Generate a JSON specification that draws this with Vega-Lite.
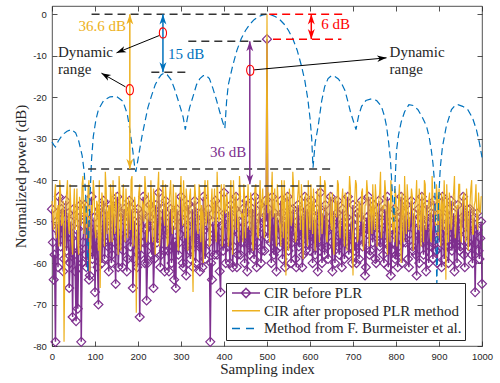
{
"$schema":"https://vega.github.io/schema/vega-lite/v6.json",
"width":430,"height":340,
"autosize":{"type":"none"},
"padding":{"left":52,"top":6,"right":18,"bottom":37},
"background":"#ffffff",
"view":{"stroke":"#262626","strokeWidth":0.8},
"config":{"axis":{"domain":false,"grid":false,"tickSize":-5,"tickWidth":0.8,"tickColor":"#262626","labelFont":"Liberation Sans","labelFontSize":9.5,"labelColor":"#262626","labelPadding":10.6,"titleFont":"Liberation Serif","titleFontSize":15,"titleFontWeight":"normal","titleColor":"#262626"}},
"datasets":{
"cir":[
{"x":0,"p":-47,"o":-45},{"x":2,"p":-55,"o":-49},{"x":4,"p":-64,"o":-52},{"x":6,"p":-58,"o":-44},{"x":8,"p":-79,"o":-41},{"x":10,"p":-50,"o":-54},{"x":12,"p":-52,"o":-48},{"x":14,"p":-61,"o":-46},{"x":16,"p":-44,"o":-56},{"x":18,"p":-53,"o":-40},
{"x":20,"p":-56,"o":-43},{"x":22,"p":-47,"o":-51},{"x":24,"p":-48,"o":-50},{"x":26,"p":-62,"o":-45},{"x":28,"p":-59,"o":-79},{"x":30,"p":-51,"o":-57},{"x":32,"p":-45,"o":-46},{"x":34,"p":-57,"o":-43},{"x":36,"p":-53,"o":-40},{"x":38,"p":-48,"o":-50},
{"x":40,"p":-66,"o":-53},{"x":42,"p":-60,"o":-41},{"x":44,"p":-50,"o":-47},{"x":46,"p":-54,"o":-55},{"x":48,"p":-73,"o":-58},{"x":50,"p":-47,"o":-47},{"x":52,"p":-58,"o":-42},{"x":54,"p":-62,"o":-52},{"x":56,"p":-74,"o":-49},{"x":58,"p":-52,"o":-42},
{"x":60,"p":-71,"o":-55},{"x":62,"p":-57,"o":-58},{"x":64,"p":-49,"o":-44},{"x":66,"p":-46,"o":-46},{"x":68,"p":-79,"o":-51},{"x":70,"p":-60,"o":-41},{"x":72,"p":-55,"o":-39},{"x":74,"p":-51,"o":-53},{"x":76,"p":-46,"o":-47},{"x":78,"p":-58,"o":-44},
{"x":80,"p":-61,"o":-54},{"x":82,"p":-48,"o":-50},{"x":84,"p":-51,"o":-42},{"x":86,"p":-64,"o":-40},{"x":88,"p":-63,"o":-62},{"x":90,"p":-53,"o":-56},{"x":92,"p":-44,"o":-46},{"x":94,"p":-59,"o":-48},{"x":96,"p":-57,"o":-40},{"x":98,"p":-49,"o":-43},
{"x":100,"p":-67,"o":-52},{"x":102,"p":-56,"o":-54},{"x":104,"p":-52,"o":-45},{"x":106,"p":-61,"o":-46},{"x":108,"p":-70,"o":-57},{"x":110,"p":-47,"o":-40},{"x":112,"p":-48,"o":-66},{"x":114,"p":-54,"o":-52},{"x":116,"p":-60,"o":-43},{"x":118,"p":-52,"o":-45},
{"x":120,"p":-45,"o":-49},{"x":122,"p":-59,"o":-56},{"x":124,"p":-55,"o":-38},{"x":126,"p":-47,"o":-42},{"x":128,"p":-50,"o":-53},{"x":130,"p":-56,"o":-48},{"x":132,"p":-62,"o":-46},{"x":134,"p":-51,"o":-55},{"x":136,"p":-46,"o":-41},{"x":138,"p":-60,"o":-44},
{"x":140,"p":-58,"o":-55},{"x":142,"p":-48,"o":-40},{"x":144,"p":-52,"o":-48},{"x":146,"p":-55,"o":-53},{"x":148,"p":-65,"o":-43},{"x":150,"p":-46,"o":-46},{"x":152,"p":-44,"o":-51},{"x":154,"p":-61,"o":-58},{"x":156,"p":-56,"o":-39},{"x":158,"p":-53,"o":-43},
{"x":160,"p":-49,"o":-57},{"x":162,"p":-48,"o":-49},{"x":164,"p":-61,"o":-45},{"x":166,"p":-57,"o":-41},{"x":168,"p":-47,"o":-50},{"x":170,"p":-50,"o":-55},{"x":172,"p":-54,"o":-42},{"x":174,"p":-62,"o":-47},{"x":176,"p":-59,"o":-54},{"x":178,"p":-49,"o":-44},
{"x":180,"p":-45,"o":-47},{"x":182,"p":-56,"o":-52},{"x":184,"p":-52,"o":-40},{"x":186,"p":-47,"o":-39},{"x":188,"p":-66,"o":-56},{"x":190,"p":-59,"o":-50},{"x":192,"p":-50,"o":-44},{"x":194,"p":-53,"o":-46},{"x":196,"p":-57,"o":-72},{"x":198,"p":-61,"o":-54},
{"x":200,"p":-47,"o":-48},{"x":202,"p":-50,"o":-43},{"x":204,"p":-73,"o":-41},{"x":206,"p":-58,"o":-57},{"x":208,"p":-55,"o":-53},{"x":210,"p":-48,"o":-45},{"x":212,"p":-44,"o":-46},{"x":214,"p":-55,"o":-50},{"x":216,"p":-60,"o":-39},{"x":218,"p":-52,"o":-42},
{"x":220,"p":-69,"o":-55},{"x":222,"p":-60,"o":-53},{"x":224,"p":-51,"o":-43},{"x":226,"p":-49,"o":-47},{"x":228,"p":-46,"o":-50},{"x":230,"p":-56,"o":-40},{"x":232,"p":-58,"o":-47},{"x":234,"p":-51,"o":-55},{"x":236,"p":-66,"o":-42},{"x":238,"p":-59,"o":-44},
{"x":240,"p":-48,"o":-58},{"x":242,"p":-46,"o":-49},{"x":244,"p":-55,"o":-45},{"x":246,"p":-54,"o":-42},{"x":248,"p":-43,"o":-38},{"x":250,"p":-50,"o":-56},{"x":252,"p":-61,"o":-52},{"x":254,"p":-58,"o":-46},{"x":256,"p":-50,"o":-44},{"x":258,"p":-47,"o":-40},
{"x":260,"p":-57,"o":-49},{"x":262,"p":-62,"o":-51},{"x":264,"p":-45,"o":-41},{"x":266,"p":-52,"o":-45},{"x":268,"p":-53,"o":-56},{"x":270,"p":-57,"o":-55},{"x":272,"p":-62,"o":-46},{"x":274,"p":-49,"o":-43},{"x":276,"p":-47,"o":-40},{"x":278,"p":-60,"o":-49},
{"x":280,"p":-56,"o":-53},{"x":282,"p":-51,"o":-41},{"x":284,"p":-64,"o":-48},{"x":286,"p":-55,"o":-52},{"x":288,"p":-66,"o":-43},{"x":290,"p":-47,"o":-46},{"x":292,"p":-49,"o":-55},{"x":294,"p":-58,"o":-57},{"x":296,"p":-55,"o":-45},{"x":298,"p":-53,"o":-43},
{"x":300,"p":-44,"o":-39},{"x":302,"p":-50,"o":-48},{"x":304,"p":-60,"o":-51},{"x":306,"p":-61,"o":-40},{"x":308,"p":-52,"o":-47},{"x":310,"p":-48,"o":-54},{"x":312,"p":-63,"o":-42},{"x":314,"p":-56,"o":-45},{"x":316,"p":-46,"o":-57},{"x":318,"p":-51,"o":-50},
{"x":320,"p":-57,"o":-44},{"x":322,"p":-59,"o":-42},{"x":324,"p":-50,"o":-50},{"x":326,"p":-47,"o":-56},{"x":328,"p":-61,"o":-67},{"x":330,"p":-54,"o":-47},{"x":332,"p":-45,"o":-41},{"x":334,"p":-60,"o":-44},{"x":336,"p":-54,"o":-48},{"x":338,"p":-50,"o":-52},
{"x":340,"p":-48,"o":-53},{"x":342,"p":-56,"o":-41},{"x":344,"p":-62,"o":-43},{"x":346,"p":-48,"o":-55},{"x":348,"p":-56,"o":-46},{"x":350,"p":-61,"o":-48},{"x":352,"p":-44,"o":-60},{"x":354,"p":-52,"o":-43},{"x":356,"p":-59,"o":-40},{"x":358,"p":-57,"o":-51},
{"x":360,"p":-51,"o":-49},{"x":362,"p":-49,"o":-40},{"x":364,"p":-47,"o":-45},{"x":366,"p":-55,"o":-56},{"x":368,"p":-79,"o":-55},{"x":370,"p":-60,"o":-46},{"x":372,"p":-64,"o":-42},{"x":374,"p":-50,"o":-50},{"x":376,"p":-53,"o":-47},{"x":378,"p":-58,"o":-42},
{"x":380,"p":-45,"o":-52},{"x":382,"p":-47,"o":-55},{"x":384,"p":-58,"o":-38},{"x":386,"p":-54,"o":-45},{"x":388,"p":-50,"o":-50},{"x":390,"p":-62,"o":-49},{"x":392,"p":-67,"o":-44},{"x":394,"p":-51,"o":-41},{"x":396,"p":-55,"o":-56},{"x":398,"p":-57,"o":-53},
{"x":400,"p":-43,"o":-41},{"x":402,"p":-48,"o":-47},{"x":404,"p":-60,"o":-48},{"x":406,"p":-55,"o":-43},{"x":408,"p":-49,"o":-45},{"x":410,"p":-51,"o":-56},{"x":412,"p":-56,"o":-53},{"x":414,"p":-60,"o":-44},{"x":416,"p":-46,"o":-40},{"x":418,"p":-49,"o":-50},
{"x":420,"p":-61,"o":-58},{"x":422,"p":-56,"o":-40},{"x":424,"p":-52,"o":-46},{"x":426,"p":-47,"o":-52},{"x":428,"p":-44,"o":-43},{"x":430,"p":-61,"o":-46},{"x":432,"p":-58,"o":-51},{"x":434,"p":-53,"o":-55},{"x":436,"p":-50,"o":-39},{"x":438,"p":-58,"o":-43},
{"x":440,"p":-55,"o":-49},{"x":442,"p":-50,"o":-48},{"x":444,"p":-47,"o":-55},{"x":446,"p":-55,"o":-41},{"x":448,"p":-60,"o":-44},{"x":450,"p":-48,"o":-54},{"x":452,"p":-45,"o":-47},{"x":454,"p":-62,"o":-46},{"x":456,"p":-53,"o":-41},{"x":458,"p":-51,"o":-50},
{"x":460,"p":-58,"o":-52},{"x":462,"p":-56,"o":-43},{"x":464,"p":-48,"o":-45},{"x":466,"p":-47,"o":-55},{"x":468,"p":-56,"o":-57},{"x":470,"p":-59,"o":-47},{"x":472,"p":-44,"o":-42},{"x":474,"p":-52,"o":-41},{"x":476,"p":-61,"o":-48},{"x":478,"p":-55,"o":-53},
{"x":480,"p":-51,"o":-54},{"x":482,"p":-49,"o":-45},{"x":484,"p":-46,"o":-40},{"x":486,"p":-60,"o":-49},{"x":488,"p":-57,"o":-46},{"x":490,"p":-53,"o":-42},{"x":492,"p":-49,"o":-51},{"x":494,"p":-57,"o":-54},{"x":496,"p":-45,"o":-44},{"x":498,"p":-50,"o":-46},
{"x":500,"p":-6,"o":0},{"x":502,"p":-54,"o":-48},{"x":504,"p":-47,"o":-43},{"x":506,"p":-49,"o":-55},{"x":508,"p":-55,"o":-50},{"x":510,"p":-60,"o":-44},{"x":512,"p":-44,"o":-38},{"x":514,"p":-52,"o":-49},{"x":516,"p":-58,"o":-47},{"x":518,"p":-48,"o":-42},
{"x":520,"p":-57,"o":-53},{"x":522,"p":-62,"o":-56},{"x":524,"p":-49,"o":-41},{"x":526,"p":-51,"o":-45},{"x":528,"p":-53,"o":-49},{"x":530,"p":-56,"o":-51},{"x":532,"p":-45,"o":-56},{"x":534,"p":-48,"o":-40},{"x":536,"p":-59,"o":-44},{"x":538,"p":-54,"o":-54},
{"x":540,"p":-50,"o":-40},{"x":542,"p":-61,"o":-47},{"x":544,"p":-56,"o":-63},{"x":546,"p":-50,"o":-43},{"x":548,"p":-44,"o":-46},{"x":550,"p":-57,"o":-57},{"x":552,"p":-52,"o":-42},{"x":554,"p":-47,"o":-45},{"x":556,"p":-60,"o":-51},{"x":558,"p":-55,"o":-50},
{"x":560,"p":-47,"o":-38},{"x":562,"p":-52,"o":-42},{"x":564,"p":-54,"o":-48},{"x":566,"p":-59,"o":-55},{"x":568,"p":-61,"o":-54},{"x":570,"p":-50,"o":-46},{"x":572,"p":-46,"o":-43},{"x":574,"p":-56,"o":-40},{"x":576,"p":-55,"o":-47},{"x":578,"p":-48,"o":-52},
{"x":580,"p":-50,"o":-41},{"x":582,"p":-61,"o":-45},{"x":584,"p":-58,"o":-59},{"x":586,"p":-53,"o":-49},{"x":588,"p":-44,"o":-45},{"x":590,"p":-57,"o":-43},{"x":592,"p":-53,"o":-50},{"x":594,"p":-47,"o":-56},{"x":596,"p":-49,"o":-40},{"x":598,"p":-55,"o":-47},
{"x":600,"p":-57,"o":-52},{"x":602,"p":-51,"o":-41},{"x":604,"p":-45,"o":-46},{"x":606,"p":-60,"o":-53},{"x":608,"p":-52,"o":-42},{"x":610,"p":-49,"o":-46},{"x":612,"p":-58,"o":-57},{"x":614,"p":-54,"o":-50},{"x":616,"p":-47,"o":-44},{"x":618,"p":-62,"o":-42},
{"x":620,"p":-55,"o":-49},{"x":622,"p":-50,"o":-55},{"x":624,"p":-43,"o":-39},{"x":626,"p":-56,"o":-45},{"x":628,"p":-60,"o":-53},{"x":630,"p":-48,"o":-49},{"x":632,"p":-50,"o":-47},{"x":634,"p":-58,"o":-40},{"x":636,"p":-46,"o":-41},{"x":638,"p":-52,"o":-54},
{"x":640,"p":-56,"o":-55},{"x":642,"p":-59,"o":-46},{"x":644,"p":-52,"o":-45},{"x":646,"p":-49,"o":-43},{"x":648,"p":-44,"o":-50},{"x":650,"p":-55,"o":-52},{"x":652,"p":-62,"o":-43},{"x":654,"p":-51,"o":-56},{"x":656,"p":-49,"o":-58},{"x":658,"p":-60,"o":-44},
{"x":660,"p":-55,"o":-46},{"x":662,"p":-48,"o":-49},{"x":664,"p":-45,"o":-40},{"x":666,"p":-56,"o":-41},{"x":668,"p":-58,"o":-52},{"x":670,"p":-53,"o":-54},{"x":672,"p":-51,"o":-47},{"x":674,"p":-61,"o":-45},{"x":676,"p":-47,"o":-42},{"x":678,"p":-50,"o":-50},
{"x":680,"p":-59,"o":-56},{"x":682,"p":-55,"o":-43},{"x":684,"p":-53,"o":-44},{"x":686,"p":-49,"o":-57},{"x":688,"p":-44,"o":-49},{"x":690,"p":-58,"o":-46},{"x":692,"p":-56,"o":-39},{"x":694,"p":-53,"o":-42},{"x":696,"p":-50,"o":-51},{"x":698,"p":-60,"o":-53},
{"x":700,"p":-46,"o":-63},{"x":702,"p":-51,"o":-47},{"x":704,"p":-57,"o":-45},{"x":706,"p":-55,"o":-40},{"x":708,"p":-60,"o":-41},{"x":710,"p":-48,"o":-55},{"x":712,"p":-48,"o":-54},{"x":714,"p":-59,"o":-45},{"x":716,"p":-54,"o":-47},{"x":718,"p":-52,"o":-50},
{"x":720,"p":-45,"o":-43},{"x":722,"p":-56,"o":-42},{"x":724,"p":-52,"o":-57},{"x":726,"p":-50,"o":-54},{"x":728,"p":-63,"o":-46},{"x":730,"p":-61,"o":-46},{"x":732,"p":-49,"o":-40},{"x":734,"p":-53,"o":-43},{"x":736,"p":-44,"o":-50},{"x":738,"p":-58,"o":-56},
{"x":740,"p":-57,"o":-44},{"x":742,"p":-48,"o":-47},{"x":744,"p":-51,"o":-53},{"x":746,"p":-55,"o":-41},{"x":748,"p":-46,"o":-48},{"x":750,"p":-51,"o":-52},{"x":752,"p":-59,"o":-41},{"x":754,"p":-60,"o":-45},{"x":756,"p":-53,"o":-56},{"x":758,"p":-49,"o":-49},
{"x":760,"p":-45,"o":-45},{"x":762,"p":-56,"o":-43},{"x":764,"p":-55,"o":-38},{"x":766,"p":-52,"o":-54},{"x":768,"p":-48,"o":-51},{"x":770,"p":-58,"o":-46},{"x":772,"p":-60,"o":-47},{"x":774,"p":-47,"o":-40},{"x":776,"p":-50,"o":-43},{"x":778,"p":-55,"o":-51},
{"x":780,"p":-44,"o":-58},{"x":782,"p":-61,"o":-45},{"x":784,"p":-56,"o":-46},{"x":786,"p":-50,"o":-55},{"x":788,"p":-63,"o":-40},{"x":790,"p":-57,"o":-43},{"x":792,"p":-52,"o":-52},{"x":794,"p":-53,"o":-48},{"x":796,"p":-47,"o":-55},{"x":798,"p":-59,"o":-42},
{"x":800,"p":-58,"o":-44},{"x":802,"p":-49,"o":-56},{"x":804,"p":-61,"o":-49},{"x":806,"p":-56,"o":-45},{"x":808,"p":-49,"o":-41},{"x":810,"p":-52,"o":-51},{"x":812,"p":-44,"o":-60},{"x":814,"p":-60,"o":-43},{"x":816,"p":-55,"o":-47},{"x":818,"p":-48,"o":-55},
{"x":820,"p":-51,"o":-39},{"x":822,"p":-55,"o":-46},{"x":824,"p":-46,"o":-53},{"x":826,"p":-51,"o":-41},{"x":828,"p":-59,"o":-45},{"x":830,"p":-61,"o":-52},{"x":832,"p":-53,"o":-50},{"x":834,"p":-50,"o":-47},{"x":836,"p":-45,"o":-42},{"x":838,"p":-56,"o":-44},
{"x":840,"p":-57,"o":-57},{"x":842,"p":-48,"o":-53},{"x":844,"p":-50,"o":-46},{"x":846,"p":-58,"o":-45},{"x":848,"p":-63,"o":-40},{"x":850,"p":-52,"o":-50},{"x":852,"p":-47,"o":-52},{"x":854,"p":-60,"o":-42},{"x":856,"p":-54,"o":-48},{"x":858,"p":-49,"o":-56},
{"x":860,"p":-44,"o":-43},{"x":862,"p":-55,"o":-46},{"x":864,"p":-58,"o":-55},{"x":866,"p":-51,"o":-40},{"x":868,"p":-52,"o":-41},{"x":870,"p":-62,"o":-52},{"x":872,"p":-46,"o":-49},{"x":874,"p":-50,"o":-47},{"x":876,"p":-60,"o":-45},{"x":878,"p":-56,"o":-43},
{"x":880,"p":-49,"o":-54},{"x":882,"p":-48,"o":-55},{"x":884,"p":-55,"o":-39},{"x":886,"p":-59,"o":-45},{"x":888,"p":-45,"o":-47},{"x":890,"p":-53,"o":-49},{"x":892,"p":-57,"o":-51},{"x":894,"p":-57,"o":-41},{"x":896,"p":-60,"o":-44},{"x":898,"p":-50,"o":-54},
{"x":900,"p":-48,"o":-42},{"x":902,"p":-55,"o":-46},{"x":904,"p":-53,"o":-56},{"x":906,"p":-61,"o":-43},{"x":908,"p":-44,"o":-46},{"x":910,"p":-49,"o":-52},{"x":912,"p":-59,"o":-40},{"x":914,"p":-56,"o":-47},{"x":916,"p":-51,"o":-64},{"x":918,"p":-52,"o":-41},
{"x":920,"p":-47,"o":-48},{"x":922,"p":-60,"o":-55},{"x":924,"p":-56,"o":-43},{"x":926,"p":-50,"o":-45},{"x":928,"p":-45,"o":-52},{"x":930,"p":-57,"o":-50},{"x":932,"p":-54,"o":-45},{"x":934,"p":-48,"o":-43},{"x":936,"p":-62,"o":-39},{"x":938,"p":-55,"o":-54},
{"x":940,"p":-50,"o":-50},{"x":942,"p":-60,"o":-46},{"x":944,"p":-46,"o":-47},{"x":946,"p":-51,"o":-41},{"x":948,"p":-57,"o":-41},{"x":950,"p":-56,"o":-52},{"x":952,"p":-52,"o":-55},{"x":954,"p":-49,"o":-47},{"x":956,"p":-44,"o":-44},{"x":958,"p":-58,"o":-43},
{"x":960,"p":-61,"o":-49},{"x":962,"p":-53,"o":-55},{"x":964,"p":-49,"o":-42},{"x":966,"p":-47,"o":-45},{"x":968,"p":-55,"o":-57},{"x":970,"p":-56,"o":-50},{"x":972,"p":-47,"o":-46},{"x":974,"p":-51,"o":-42},{"x":976,"p":-58,"o":-40},{"x":978,"p":-60,"o":-53},
{"x":980,"p":-52,"o":-53},{"x":982,"p":-49,"o":-46},{"x":984,"p":-67,"o":-45},{"x":986,"p":-55,"o":-41},{"x":988,"p":-48,"o":-50},{"x":990,"p":-52,"o":-52},{"x":992,"p":-57,"o":-43},{"x":994,"p":-59,"o":-47},{"x":996,"p":-54,"o":-48},{"x":998,"p":-50,"o":-44},
{"x":1000,"p":-65,"o":-44}
],
"burm":[
{"x":0,"y":-30.8},{"x":4,"y":-31.5},{"x":8,"y":-32},{"x":15,"y":-30.5},{"x":25,"y":-29},{"x":35,"y":-28.2},{"x":45,"y":-27.8},{"x":55,"y":-28.6},{"x":62,"y":-30.5},{"x":70,"y":-34},{"x":75,"y":-38},{"x":79,"y":-45},{"x":83,"y":-62},{"x":88,"y":-45},{"x":92,"y":-35},{"x":96,"y":-29.5},{"x":102,"y":-25.5},{"x":108,"y":-23},{"x":120,"y":-20.8},{"x":135,"y":-19.9},{"x":150,"y":-19.8},{"x":165,"y":-21},{"x":175,"y":-24},{"x":182,"y":-28.5},{"x":188,"y":-33},{"x":192,"y":-36.5},{"x":195,"y":-38},
{"x":200,"y":-35},{"x":204,"y":-32.5},{"x":210,"y":-29},{"x":216,"y":-26},{"x":223,"y":-22.5},{"x":231,"y":-19.8},{"x":240,"y":-17},{"x":247,"y":-15.6},{"x":254,"y":-14.6},{"x":261,"y":-14.2},{"x":268,"y":-14.6},{"x":277,"y":-15.8},{"x":285,"y":-18},{"x":293,"y":-20.6},{"x":300,"y":-23},{"x":305,"y":-24.8},{"x":310,"y":-27.8},
{"x":315,"y":-25},{"x":320,"y":-22.5},{"x":328,"y":-19.8},{"x":336,"y":-17},{"x":344,"y":-15.5},{"x":352,"y":-14.8},{"x":358,"y":-14.7},{"x":366,"y":-15.5},{"x":374,"y":-17.8},{"x":382,"y":-20.5},{"x":390,"y":-23.5},{"x":397,"y":-26},{"x":402,"y":-27.5},
{"x":406,"y":-21},{"x":410,"y":-17},{"x":420,"y":-12.5},{"x":430,"y":-8.7},{"x":440,"y":-5.9},{"x":450,"y":-3.9},{"x":460,"y":-2.4},{"x":470,"y":-1.3},{"x":480,"y":-0.6},{"x":490,"y":-0.15},{"x":500,"y":0},{"x":510,"y":-0.15},{"x":520,"y":-0.6},{"x":530,"y":-1.3},{"x":540,"y":-2.4},{"x":550,"y":-3.9},{"x":560,"y":-5.9},{"x":570,"y":-8.6},{"x":580,"y":-12.4},{"x":588,"y":-16},{"x":595,"y":-20.5},{"x":600,"y":-25},{"x":604,"y":-30},{"x":607,"y":-37},
{"x":612,"y":-31},{"x":619,"y":-27},{"x":627,"y":-21},{"x":634,"y":-17.5},{"x":642,"y":-15.5},{"x":650,"y":-14.8},{"x":658,"y":-15},{"x":666,"y":-15.6},{"x":674,"y":-16.8},{"x":681,"y":-18.3},{"x":688,"y":-21},{"x":694,"y":-23.5},{"x":700,"y":-25.5},{"x":707,"y":-27.8},
{"x":713,"y":-24.5},{"x":720,"y":-22.2},{"x":730,"y":-20.8},{"x":743,"y":-20.4},{"x":755,"y":-20.8},{"x":766,"y":-22.2},{"x":773,"y":-24.5},{"x":778,"y":-27},{"x":783,"y":-31},{"x":787,"y":-35},{"x":791,"y":-42},{"x":795,"y":-50},
{"x":798,"y":-40},{"x":801,"y":-33},{"x":806,"y":-29},{"x":812,"y":-26},{"x":820,"y":-23.5},{"x":830,"y":-21.8},{"x":840,"y":-22},{"x":851,"y":-23},{"x":861,"y":-24.8},{"x":871,"y":-27},{"x":877,"y":-29.5},{"x":882,"y":-32.7},{"x":886,"y":-36},{"x":890,"y":-41},{"x":895,"y":-65},
{"x":899,"y":-45},{"x":903,"y":-37},{"x":908,"y":-32},{"x":917,"y":-27},{"x":929,"y":-23},{"x":937,"y":-22},{"x":944,"y":-21.8},{"x":955,"y":-22.2},{"x":967,"y":-23},{"x":978,"y":-25},{"x":987,"y":-27.8},{"x":994,"y":-31},{"x":1000,"y":-34.5}
],
"hd":[{"x":92,"x2":499,"y":0},{"x":317,"x2":497,"y":-6.5},{"x":231,"x2":312,"y":-14},{"x":84,"x2":657,"y":-37.3},{"x":10,"x2":654,"y":-41.4}],
"rd":[{"x":505,"x2":675,"y":0},{"x":514,"x2":673,"y":-6}],
"varr":[{"k":"y","x":181,"t":0,"b":-37.3},{"k":"b","x":258,"t":0,"b":-14},{"k":"p","x":460,"t":-6.5,"b":-41},{"k":"r","x":603,"t":0,"b":-6}],
"darr":[{"x":250,"y":-5.1,"x2":150,"y2":-9.3},{"x":171,"y":-17.5,"x2":115,"y2":-14.2},{"x":470,"y":-13.4,"x2":778,"y2":-10.5}],
"circ":[{"x":258,"y":-4.5},{"x":181,"y":-18.2},{"x":461,"y":-13.5}],
"tr":[{"s":"36.6 dB","x":172,"y":-4.1,"k":"y"},{"s":"36 dB","x":452,"y":-34.4,"k":"p"}],
"tl":[{"s":"15 dB","x":270,"y":-10.9,"k":"b"},{"s":"6 dB","x":626,"y":-3.5,"k":"r"},{"s":"Dynamic","x":14,"y":-10.2,"k":"k"},{"s":"range","x":14,"y":-14.4,"k":"k"},{"s":"Dynamic","x":785,"y":-10.2,"k":"k"},{"s":"range","x":785,"y":-14.4,"k":"k"}]
},
"layer":[
{"data":{"name":"cir"},"mark":{"type":"line","strokeWidth":1.5},
 "encoding":{
  "x":{"field":"x","type":"quantitative","scale":{"domain":[0,1000],"nice":false,"zero":false},"axis":{"orient":"bottom","values":[0,100,200,300,400,500,600,700,800,900,1000],"format":"d","labelFlush":false,"title":"Sampling index","titlePadding":0}},
  "y":{"field":"p","type":"quantitative","scale":{"domain":[-80,2],"nice":false,"zero":false},"axis":{"orient":"left","values":[-80,-70,-60,-50,-40,-30,-20,-10,0],"labelExpr":"replace(datum.label,'\u2212','-')","title":"Normalized power (dB)","titlePadding":4}},
  "color":{"datum":"CIR before PLR","type":"nominal","scale":{"domain":["CIR before PLR","CIR after proposed PLR method","Method from F. Burmeister et al."],"range":["#7E2F8E","#EDB120","#0072BD"]},
   "legend":{"orient":"none","legendX":174,"legendY":277,"title":null,"direction":"vertical","padding":3,"strokeColor":"#262626","fillColor":"#ffffff","cornerRadius":0,"symbolType":"M-1,0L1,0","symbolSize":784,"symbolStrokeWidth":1.5,"symbolOffset":2,"labelOffset":3,"labelFont":"Liberation Serif","labelFontSize":15,"labelColor":"#262626","labelLimit":400,"clipHeight":14,"rowPadding":2.7,
    "encode":{"symbols":{"update":{"shape":{"signal":"datum.value === 'CIR before PLR' ? 'M-1,0L1,0M-0.33,0L0,-0.33L0.33,0L0,0.33Z' : 'M-1,0L1,0'"},"strokeDash":{"signal":"datum.value === 'Method from F. Burmeister et al.' ? [8,6] : [1,0]"},"fill":{"value":"transparent"},"opacity":{"value":1}}}}}}
 }},
{"data":{"name":"cir"},"mark":{"type":"point","shape":"diamond","filled":false,"size":80,"strokeWidth":1.2,"opacity":1},
 "encoding":{"x":{"field":"x","type":"quantitative","axis":null},"y":{"field":"p","type":"quantitative","axis":null},"color":{"datum":"CIR before PLR","type":"nominal"}}},
{"data":{"name":"cir"},"mark":{"type":"line","strokeWidth":1.2},
 "encoding":{"x":{"field":"x","type":"quantitative","axis":null},"y":{"field":"o","type":"quantitative","axis":null},"color":{"datum":"CIR after proposed PLR method","type":"nominal"}}},
{"data":{"name":"burm"},"mark":{"type":"line","strokeWidth":1.2,"strokeDash":[7,4]},
 "encoding":{
  "x":{"field":"x","type":"quantitative","axis":{"orient":"top","values":[0,100,200,300,400,500,600,700,800,900,1000],"labels":false,"title":null}},
  "y":{"field":"y","type":"quantitative","axis":{"orient":"right","values":[-80,-70,-60,-50,-40,-30,-20,-10,0],"labels":false,"title":null}},
  "color":{"datum":"Method from F. Burmeister et al.","type":"nominal"}}},
{"data":{"name":"hd"},"mark":{"type":"rule","color":"#333333","strokeWidth":1.5,"strokeDash":[8,5]},
 "encoding":{"x":{"field":"x","type":"quantitative","axis":null},"x2":{"field":"x2"},"y":{"field":"y","type":"quantitative","axis":null}}},
{"data":{"name":"rd"},"mark":{"type":"rule","color":"#FF0000","strokeWidth":1.5,"strokeDash":[8,5]},
 "encoding":{"x":{"field":"x","type":"quantitative","axis":null},"x2":{"field":"x2"},"y":{"field":"y","type":"quantitative","axis":null}}},
{"data":{"name":"varr"},"mark":{"type":"rule","strokeWidth":1.5},
 "encoding":{"x":{"field":"x","type":"quantitative","axis":null},"y":{"field":"t","type":"quantitative","axis":null},"y2":{"field":"b"},
  "stroke":{"field":"k","type":"nominal","scale":{"domain":["y","b","p","r","k"],"range":["#EDB120","#0072BD","#7E2F8E","#FF0000","#262626"]},"legend":null}}},
{"data":{"name":"varr"},"mark":{"type":"point","shape":"M0,0L0.55,1.6L0,1.15L-0.55,1.6Z","size":160,"filled":true,"opacity":1,"strokeWidth":0,"angle":0},
 "encoding":{"x":{"field":"x","type":"quantitative","axis":null},"y":{"field":"t","type":"quantitative","axis":null},
  "fill":{"field":"k","type":"nominal","scale":{"domain":["y","b","p","r","k"],"range":["#EDB120","#0072BD","#7E2F8E","#FF0000","#262626"]},"legend":null}}},
{"data":{"name":"varr"},"mark":{"type":"point","shape":"M0,0L0.55,1.6L0,1.15L-0.55,1.6Z","size":160,"filled":true,"opacity":1,"strokeWidth":0,"angle":180},
 "encoding":{"x":{"field":"x","type":"quantitative","axis":null},"y":{"field":"b","type":"quantitative","axis":null},
  "fill":{"field":"k","type":"nominal","scale":{"domain":["y","b","p","r","k"],"range":["#EDB120","#0072BD","#7E2F8E","#FF0000","#262626"]},"legend":null}}},
{"data":{"name":"darr"},"mark":{"type":"rule","color":"#000000","strokeWidth":1},
 "encoding":{"x":{"field":"x","type":"quantitative","axis":null},"y":{"field":"y","type":"quantitative","axis":null},"x2":{"field":"x2"},"y2":{"field":"y2"}}},
{"data":{"values":[{"x":150,"y":-9.3}]},"mark":{"type":"point","shape":"M0,0L0.55,1.6L0,1.15L-0.55,1.6Z","size":140,"filled":true,"color":"#000000","opacity":1,"strokeWidth":0,"angle":248},
 "encoding":{"x":{"field":"x","type":"quantitative","axis":null},"y":{"field":"y","type":"quantitative","axis":null}}},
{"data":{"values":[{"x":115,"y":-14.2}]},"mark":{"type":"point","shape":"M0,0L0.55,1.6L0,1.15L-0.55,1.6Z","size":140,"filled":true,"color":"#000000","opacity":1,"strokeWidth":0,"angle":300},
 "encoding":{"x":{"field":"x","type":"quantitative","axis":null},"y":{"field":"y","type":"quantitative","axis":null}}},
{"data":{"values":[{"x":778,"y":-10.5}]},"mark":{"type":"point","shape":"M0,0L0.55,1.6L0,1.15L-0.55,1.6Z","size":140,"filled":true,"color":"#000000","opacity":1,"strokeWidth":0,"angle":85},
 "encoding":{"x":{"field":"x","type":"quantitative","axis":null},"y":{"field":"y","type":"quantitative","axis":null}}},
{"data":{"name":"circ"},"mark":{"type":"point","shape":"M0,-1.2C1.13,-1.2 1.13,1.2 0,1.2C-1.13,1.2 -1.13,-1.2 0,-1.2Z","size":72,"filled":false,"color":"#FF0000","opacity":1,"strokeWidth":1.1},
 "encoding":{"x":{"field":"x","type":"quantitative","axis":null},"y":{"field":"y","type":"quantitative","axis":null}}},
{"data":{"name":"tr"},"mark":{"type":"text","align":"right","baseline":"alphabetic","font":"Liberation Serif","fontSize":15},
 "encoding":{"x":{"field":"x","type":"quantitative","axis":null},"y":{"field":"y","type":"quantitative","axis":null},"text":{"field":"s"},
  "fill":{"field":"k","type":"nominal","scale":{"domain":["y","b","p","r","k"],"range":["#EDB120","#0072BD","#7E2F8E","#FF0000","#262626"]},"legend":null}}},
{"data":{"name":"tl"},"mark":{"type":"text","align":"left","baseline":"alphabetic","font":"Liberation Serif","fontSize":15},
 "encoding":{"x":{"field":"x","type":"quantitative","axis":null},"y":{"field":"y","type":"quantitative","axis":null},"text":{"field":"s"},
  "fill":{"field":"k","type":"nominal","scale":{"domain":["y","b","p","r","k"],"range":["#EDB120","#0072BD","#7E2F8E","#FF0000","#262626"]},"legend":null}}}
],
"resolve":{"axis":{"x":"independent","y":"independent"}}
}
